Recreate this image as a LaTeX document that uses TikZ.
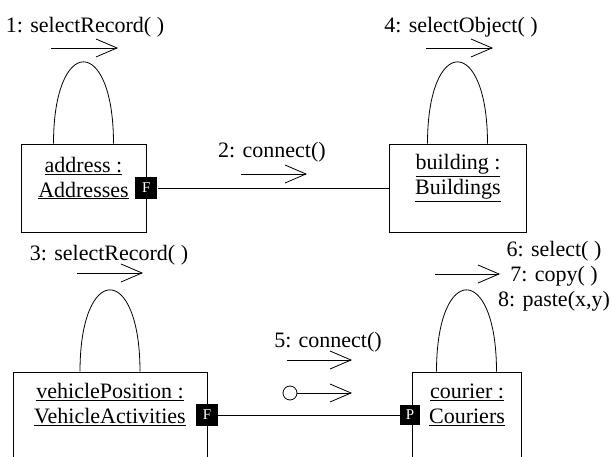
\documentclass[tikz,border=0pt]{standalone}
\usepackage{fontspec}
\setmainfont{Liberation Serif}
\usetikzlibrary{arrows.meta}
\tikzset{
  obj/.style={draw, rectangle, inner sep=0pt},
  tag/.style={fill=black, text=white, inner sep=0pt, minimum size=22pt, font=\fontsize{15}{15}\selectfont},
  msg/.style={-{Straight Barb[length=21pt,width=18pt]}},
  lbl/.style={font=\fontsize{22}{25}\selectfont, inner sep=0pt, align=center}
}
\begin{document}
\begin{tikzpicture}[x=1pt, y=-1pt, line width=0.8pt]
\clip (0,0) rectangle (611,457);
% objects
\node[obj, minimum width=125pt, minimum height=88pt] (addr) at (83.5,188){};
\node[obj, minimum width=137pt, minimum height=88pt] (bldg) at (457.5,188){};
\node[obj, minimum width=194pt, minimum height=110pt] (vpos) at (110,427){};
\node[obj, minimum width=109pt, minimum height=110pt] (cour) at (466.5,427){};
\node[lbl] (addrtxt) at (83.5,178){\underline{address :}\\\underline{Addresses}};
\node[lbl] (bldgtxt) at (458,178){\underline{building :}\\\underline{Buildings}};
\node[lbl] (vpostxt) at (110,405){\underline{vehiclePosition :}\\\underline{VehicleActivities}};
\node[lbl] (courtxt) at (467,405){\underline{courier :}\\\underline{Couriers}};
% tags
\node[tag] (fa) at (addr.east){F};
\node[tag] (fv) at (207,415){F};
\node[tag, minimum size=20pt] (pc) at (410,415){P};
\draw[](fa) -- (bldg);
\draw[](fv) -- (pc);
% self loops
\draw[]([xshift=-30pt]addr.north) .. controls +(0,-109) and +(0,-109) .. ([xshift=30pt]addr.north);
\draw[]([xshift=-30pt]bldg.north) .. controls +(0,-109) and +(0,-109) .. ([xshift=30pt]bldg.north);
\draw[]([xshift=-30pt]vpos.north) .. controls +(0,-109) and +(0,-109) .. ([xshift=30pt]vpos.north);
\draw[]([xshift=-30pt]cour.north) .. controls +(0,-109) and +(0,-109) .. ([xshift=30pt]cour.north);
% messages
\node[lbl] (m1) at (85,27){1: selectRecord( )};
\coordinate (m1a) at (51,48);
\coordinate (m1b) at (118,48);
\draw[msg](m1a) -- (m1b);
\node[lbl] (m2) at (272,152){2: connect()};
\coordinate (m2a) at (241,174);
\coordinate (m2b) at (307,174);
\draw[msg](m2a) -- (m2b);
\node[lbl] (m3) at (109,255){3: selectRecord( )};
\coordinate (m3a) at (77,273);
\coordinate (m3b) at (143,273);
\draw[msg](m3a) -- (m3b);
\node[lbl] (m4) at (461,27){4: selectObject( )};
\coordinate (m4a) at (426,48);
\coordinate (m4b) at (493,48);
\draw[msg](m4a) -- (m4b);
\node[lbl] (m5) at (328,342){5: connect()};
\coordinate (m5a) at (287,360);
\coordinate (m5b) at (352,360);
\draw[msg](m5a) -- (m5b);
\node[draw, circle, minimum size=14pt, inner sep=0pt] (m5c) at (290,393){};
\coordinate (m5d) at (352,393);
\draw[msg](m5c) -- (m5d);
\node[lbl] (m6) at (554,276){6: select( )\\7: copy( )\\8: paste(x,y)};
\coordinate (m6a) at (435,274);
\coordinate (m6b) at (500,274);
\draw[msg](m6a) -- (m6b);
\end{tikzpicture}
\end{document}
